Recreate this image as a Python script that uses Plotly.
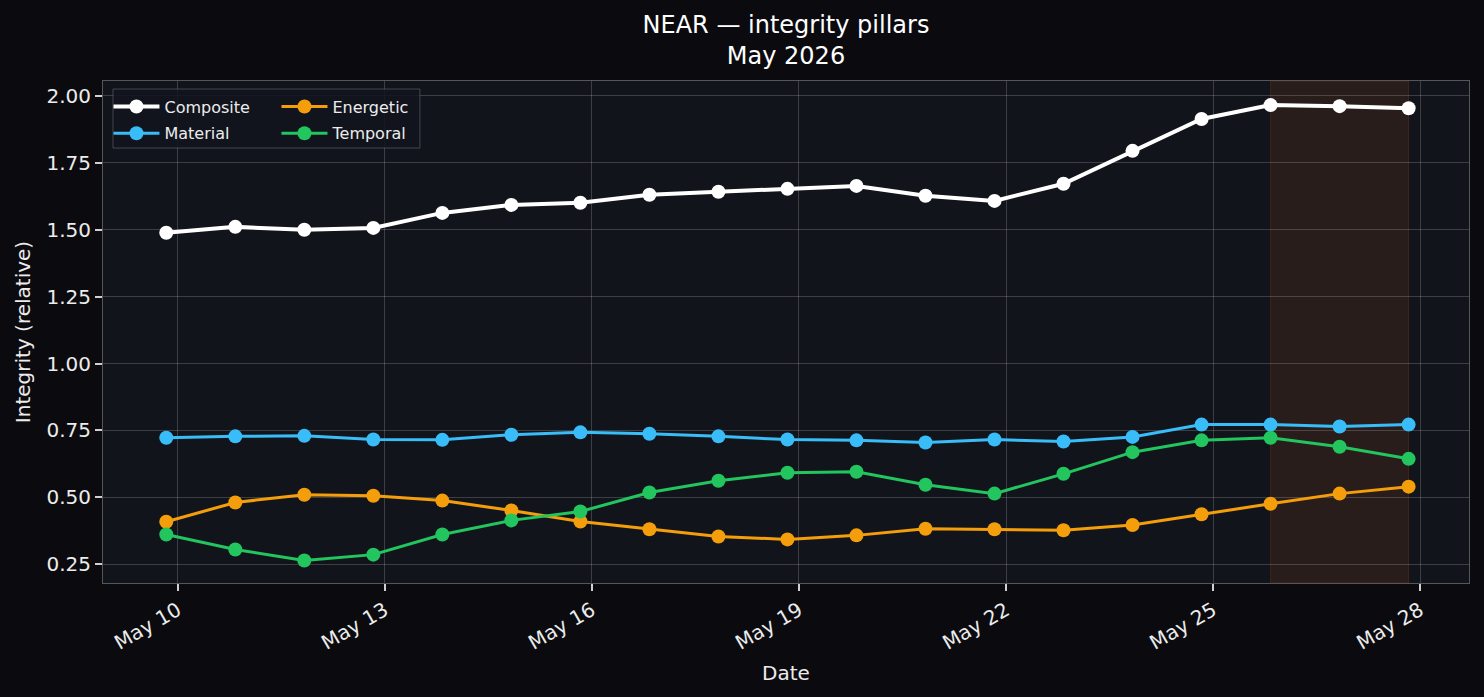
import plotly.graph_objects as go

dates = [
    "2026-05-09 20:00", "2026-05-10 20:00", "2026-05-11 20:00", "2026-05-12 20:00",
    "2026-05-13 20:00", "2026-05-14 20:00", "2026-05-15 20:00", "2026-05-16 20:00",
    "2026-05-17 20:00", "2026-05-18 20:00", "2026-05-19 20:00", "2026-05-20 20:00",
    "2026-05-21 20:00", "2026-05-22 20:00", "2026-05-23 20:00", "2026-05-24 20:00",
    "2026-05-25 20:00", "2026-05-26 20:00", "2026-05-27 20:00",
]
composite = [1.489, 1.511, 1.500, 1.507, 1.563, 1.593, 1.601, 1.631, 1.642, 1.653,
             1.664, 1.627, 1.608, 1.672, 1.795, 1.914, 1.966, 1.962, 1.954]
material = [0.723, 0.728, 0.730, 0.716, 0.715, 0.734, 0.743, 0.738, 0.728, 0.716,
            0.713, 0.705, 0.716, 0.709, 0.726, 0.772, 0.772, 0.765, 0.772]
energetic = [0.409, 0.481, 0.510, 0.506, 0.488, 0.451, 0.410, 0.381, 0.354, 0.343,
             0.358, 0.383, 0.381, 0.377, 0.397, 0.437, 0.476, 0.514, 0.540]
temporal = [0.361, 0.305, 0.264, 0.286, 0.361, 0.414, 0.447, 0.518, 0.562, 0.592,
            0.596, 0.547, 0.514, 0.588, 0.669, 0.713, 0.723, 0.689, 0.644]
highlight_start = "2026-05-25 20:00"
highlight_end = "2026-05-27 20:00"
x_range = ["2026-05-08 22:00", "2026-05-28 17:00"]
y_range = [0.18, 2.056]
y_ticks = [0.25, 0.50, 0.75, 1.00, 1.25, 1.50, 1.75, 2.00]

FONT = "DejaVu Sans"
TXT = "#ececec"
GRID = "rgba(255,255,255,0.18)"

fig = go.Figure()

series = [
    ("Composite", composite, "#ffffff", 4, 14, "legend", "g1"),
    ("Material", material, "#38bdf8", 3, 14, "legend", "g2"),
    ("Energetic", energetic, "#f59e0b", 3, 14, "legend2", "g3"),
    ("Temporal", temporal, "#22c55e", 3, 14, "legend2", "g4"),
]
for name, vals, color, lw, ms, leg, grp in series:
    fig.add_trace(go.Scatter(
        x=dates, y=vals, name=name, mode="lines+markers",
        line=dict(color=color, width=lw),
        marker=dict(color=color, size=ms),
        legend=leg, legendgroup=grp,
    ))

fig.add_vrect(x0=highlight_start, x1=highlight_end,
              fillcolor="rgba(249,115,22,0.10)",
              line=dict(color="rgba(249,115,22,0.15)", width=1),
              layer="below")

# legend frame
fig.add_shape(type="rect", xref="paper", yref="paper",
              x0=0.0073, x1=0.232, y0=0.8665, y1=0.984,
              fillcolor="rgba(18,20,28,0.85)",
              line=dict(color="rgba(120,120,130,0.5)", width=1),
              layer="above")

legend_common = dict(
    bgcolor="rgba(0,0,0,0)", borderwidth=0,
    font=dict(family=FONT, size=16, color=TXT),
    xanchor="left", yanchor="top", orientation="v",
    traceorder="grouped", tracegroupgap=3, itemwidth=46,
)

fig.update_layout(
    width=1484, height=697,
    margin=dict(l=103, r=15, t=81, b=114),
    paper_bgcolor="#0b0b0f",
    plot_bgcolor="#12141c",
    font=dict(family=FONT, color=TXT, size=20),
    title=dict(
        text="NEAR — integrity pillars<br>May 2026",
        font=dict(family=FONT, size=24, color="#ffffff"),
        x=0.5, xref="paper", xanchor="center",
        y=1 - 33 / 697, yref="container", yanchor="top",
    ),
    legend=dict(x=0.004, y=0.983, **legend_common),
    legend2=dict(x=0.127, y=0.983, **legend_common),
    showlegend=True,
)

fig.update_xaxes(
    type="date", range=x_range,
    tick0="2026-05-10", dtick=3 * 86400000, tickformat="%b %d",
    tickangle=-30,
    showgrid=True, gridcolor=GRID, gridwidth=1,
    showline=True, linecolor="#55565c", linewidth=1, mirror=True,
    ticks="outside", ticklen=7, tickwidth=1.5, tickcolor="#d0d0d0",
    tickfont=dict(family=FONT, size=20, color=TXT),
    title=dict(text="Date", font=dict(family=FONT, size=20, color=TXT), standoff=12),
    zeroline=False,
)
fig.update_yaxes(
    range=y_range, tickvals=y_ticks, tickformat=".2f",
    showgrid=True, gridcolor=GRID, gridwidth=1,
    showline=True, linecolor="#55565c", linewidth=1, mirror=True,
    ticks="outside", ticklen=7, tickwidth=1.5, tickcolor="#d0d0d0",
    tickfont=dict(family=FONT, size=20, color=TXT),
    title=dict(text="Integrity (relative)", font=dict(family=FONT, size=20, color=TXT), standoff=10),
    zeroline=False,
)

fig.write_html("out.html")
